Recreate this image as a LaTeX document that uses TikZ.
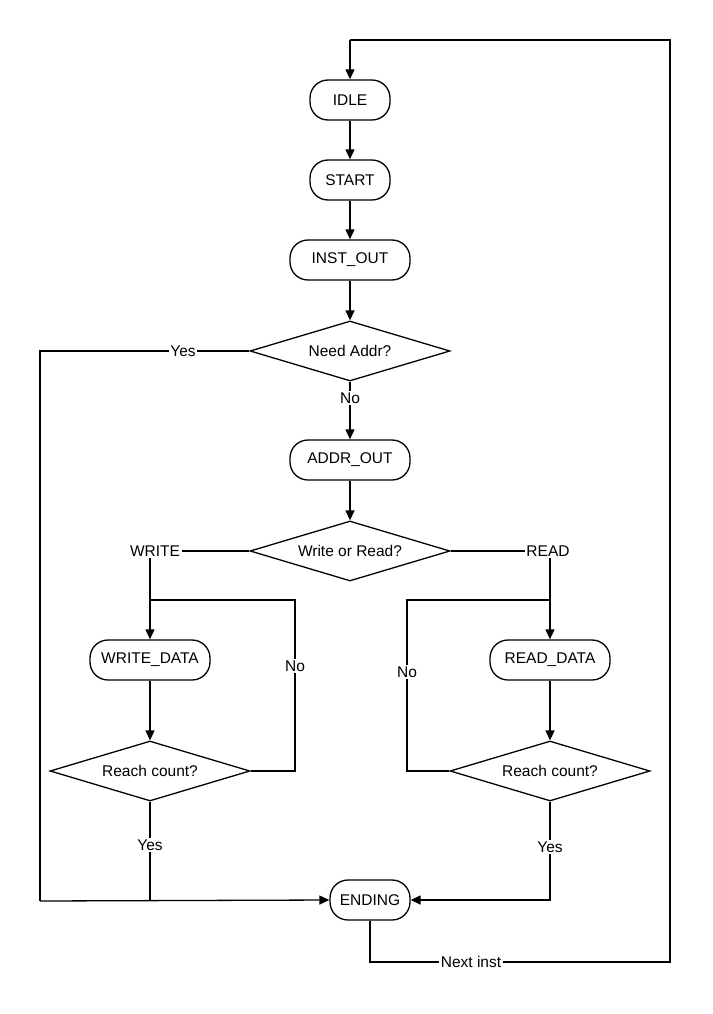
\documentclass[tikz,border=0pt]{standalone}
\usepackage{fontspec}
\setmainfont{Liberation Sans}
\usetikzlibrary{shapes.geometric,arrows.meta}
\begin{document}
\begin{tikzpicture}[x=1pt,y=-1pt,font=\fontsize{15.5}{17}\selectfont,line width=1.3pt,
  state/.style={draw,rounded corners=18pt,minimum height=40pt,inner sep=2pt},
  test/.style={draw,diamond,aspect=3.33,minimum width=200pt,minimum height=60pt,inner sep=0pt},
  lbl/.style={fill=white,inner sep=1pt},
  arr/.style={-{Triangle[length=10pt,width=9pt]}}]
\useasboundingbox (0,0) rectangle (712,1014);
% states
\node[state,minimum width=80pt] (idle) at (350,100) {IDLE};
\node[state,minimum width=80pt] (start) at (350,180) {START};
\node[state,minimum width=120pt] (inst) at (350,260) {INST\_OUT};
\node[test] (need) at (350,351) {Need Addr?};
\node[state,minimum width=120pt] (addr) at (350,460) {ADDR\_OUT};
\node[test] (wor) at (350,551) {Write or Read?};
\node[state,minimum width=120pt] (wd) at (150,660) {WRITE\_DATA};
\node[test] (wrc) at (150,771) {Reach count?};
\node[state,minimum width=120pt] (rd) at (550,660) {READ\_DATA};
\node[test] (rrc) at (550,771) {Reach count?};
\node[state,minimum width=80pt] (end) at (370,900) {ENDING};
% labels and corners
\node[lbl] (yes1) at (183,351) {Yes};
\node[lbl] (no1) at (350,398) {No};
\node[lbl] (wr) at (155,551) {WRITE};
\node[lbl] (rr) at (548,551) {READ};
\node[lbl] (no2) at (295,666) {No};
\node[lbl] (no3) at (407,672) {No};
\node[lbl] (yes2) at (150,845) {Yes};
\node[lbl] (yes3) at (550,847) {Yes};
\node[lbl] (next) at (471,962) {Next inst};
\coordinate (c1) at (40,351);
\coordinate (c2) at (40,901);
\coordinate (wj) at (150,600);
\coordinate (wl) at (295,600);
\coordinate (rj) at (550,600);
\coordinate (rl) at (407,600);
\coordinate (t1) at (370,962);
\coordinate (t2) at (670,962);
\coordinate (t3) at (670,40);
\coordinate (t4) at (350,40);
% connectors
\draw[arr] (idle) -- (start);
\draw[arr] (start) -- (inst);
\draw[arr] (inst) -- (need);
\draw (need.south) -- (no1);
\draw[arr] (no1) -- (addr);
\draw[arr] (addr) -- (wor);
\draw (need.west) -- (yes1) -- (yes1 -| c1) -- (c2);
\draw[arr] (c2) -- (end.west);
\draw (wor.west) -- (wr);
\draw (wor.east) -- (rr);
\draw[arr] (wr.south -| wj) -- (wd);
\draw[arr] (rr.south -| rj) -- (rd);
\draw[arr] (wd) -- (wrc);
\draw[arr] (rd) -- (rrc);
\draw (wrc.east) -- (wrc.east -| wl) -- (no2) -- (wl) -- (wj);
\draw (rrc.west) -- (rrc.west -| rl) -- (no3) -- (rl) -- (rj);
\draw (wrc.south) -- (yes2) -- (yes2 |- c2);
\draw (rrc.south) -- (yes3);
\draw[arr] (yes3) |- (end.east);
\draw (end.south) -- (t1) -- (next) -- (t2) -- (t3) -- (t4);
\draw[arr] (t4) -- (idle);
\end{tikzpicture}
\end{document}
